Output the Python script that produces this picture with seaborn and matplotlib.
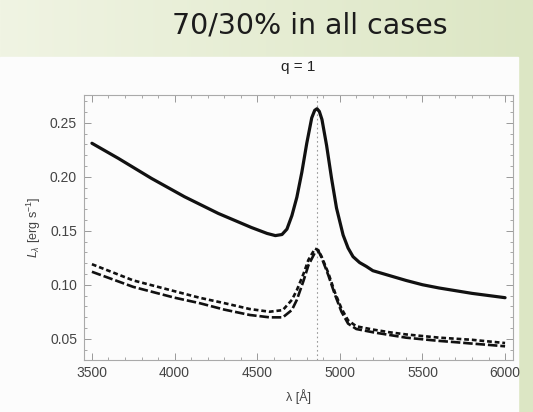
import numpy as np
import matplotlib
matplotlib.use("Agg")
import matplotlib.pyplot as plt
import seaborn as sns
from matplotlib.patches import Rectangle
from matplotlib.ticker import MultipleLocator, FormatStrFormatter

# dados (lambda em Angstrom, L em erg/s)
lam_solid = [3500, 3660, 3860, 4060, 4265, 4465, 4560, 4610, 4650, 4680, 4710, 4740, 4770, 4800,
             4830, 4848, 4862, 4876, 4892, 4920, 4950, 4980, 5020, 5050, 5080, 5120, 5160, 5200,
             5300, 5400, 5500, 5600, 5700, 5800, 5900, 6000]
L_solid = [0.231, 0.217, 0.1985, 0.1815, 0.166, 0.153, 0.1475, 0.1455, 0.1465, 0.1515, 0.164, 0.181, 0.204, 0.231,
           0.2545, 0.2615, 0.263, 0.2605, 0.253, 0.229, 0.1985, 0.171, 0.146, 0.134, 0.126, 0.1205, 0.117, 0.113,
           0.1085, 0.104, 0.100, 0.097, 0.0945, 0.092, 0.090, 0.088]

lam_dash = [3500, 3750, 4000, 4150, 4300, 4455, 4575, 4655, 4710, 4740, 4780, 4810, 4850,
            4870, 4890, 4930, 4970, 5010, 5050, 5100, 5200, 5300, 5400, 5500, 5600,
            5700, 5800, 5900, 6000]
L_short = [0.119, 0.104, 0.094, 0.088, 0.083, 0.0775, 0.075, 0.0765, 0.086, 0.095, 0.110, 0.123, 0.1335,
           0.132, 0.126, 0.111, 0.093, 0.078, 0.067, 0.0615, 0.0585, 0.056, 0.054, 0.0525, 0.051,
           0.050, 0.049, 0.0475, 0.046]
L_long = [0.112, 0.098, 0.088, 0.083, 0.077, 0.072, 0.0698, 0.0698, 0.0766, 0.086, 0.1035, 0.118, 0.130,
          0.1315, 0.125, 0.109, 0.091, 0.075, 0.064, 0.059, 0.056, 0.0535, 0.051, 0.0495, 0.048,
          0.0468, 0.0455, 0.0443, 0.043]

hbeta = 4861

sns.set_style("ticks")
plt.rcParams["font.family"] = ["Liberation Sans", "DejaVu Sans"]
plt.rcParams["mathtext.fontset"] = "custom"
plt.rcParams["mathtext.rm"] = "Liberation Sans"
plt.rcParams["mathtext.it"] = "Liberation Sans:italic"

fig = plt.figure(figsize=(5.33, 4.12), dpi=100)

# fundo verde do slide
bg = fig.add_axes([0, 0, 1, 1], zorder=-10)
grad = np.linspace(0, 1, 256).reshape(1, -1)
cmap = matplotlib.colors.LinearSegmentedColormap.from_list("g", ["#f0f4e3", "#dce6c4"])
bg.imshow(grad, aspect="auto", cmap=cmap, extent=[0, 1, 0, 1])
bg.add_patch(Rectangle((0, 0), 518 / 533, 1 - 57 / 412, color="#fcfcfc", zorder=2))
bg.set_xlim(0, 1)
bg.set_ylim(0, 1)
bg.axis("off")

fig.text(310 / 533, 1 - 26 / 412, "70/30% in all cases", ha="center", va="center",
         fontsize=20.5, family="DejaVu Sans", color="#1c1c1c")
fig.text(298.5 / 533, 1 - 67 / 412, "q = 1", ha="center", va="center",
         fontsize=11, color="#222222")

ax = fig.add_axes([84 / 533, 1 - 360 / 412, 429 / 533, 265 / 412])
ax.set_facecolor("#fcfcfc")

ax.axvline(hbeta, color="#999999", lw=0.8, ls=(0, (1.5, 2.5)), zorder=1)

sns.lineplot(x=lam_solid, y=L_solid, ax=ax, color="#111111", lw=2.3)
sns.lineplot(x=lam_dash, y=L_short, ax=ax, color="#111111", lw=1.9,
             linestyle=(0, (1.8, 1.1)))
sns.lineplot(x=lam_dash, y=L_long, ax=ax, color="#111111", lw=1.9,
             linestyle=(0, (3.6, 1.1)))

ax.set_xlim(3452, 6048)
ax.set_ylim(0.0303, 0.2757)
ax.xaxis.set_major_locator(MultipleLocator(500))
ax.xaxis.set_minor_locator(MultipleLocator(100))
ax.yaxis.set_major_locator(MultipleLocator(0.05))
ax.yaxis.set_minor_locator(MultipleLocator(0.01))
ax.yaxis.set_major_formatter(FormatStrFormatter("%.2f"))
ax.tick_params(which="both", direction="in", top=True, right=True, color="#999999",
               labelsize=10, labelcolor="#444444")
ax.tick_params(axis="y", pad=5)
ax.tick_params(axis="x", pad=4)
ax.tick_params(which="major", length=5, width=0.7)
ax.tick_params(which="minor", length=2.5, width=0.6)
for s in ax.spines.values():
    s.set_color("#aaaaaa")
    s.set_linewidth(0.8)

ax.set_xlabel("λ [Å]", fontsize=9, color="#444444", labelpad=7)
ax.set_ylabel(r"$L_\lambda$ [erg s$^{-1}$]", fontsize=9, color="#444444", labelpad=5)

fig.savefig("out.png", dpi=100)
